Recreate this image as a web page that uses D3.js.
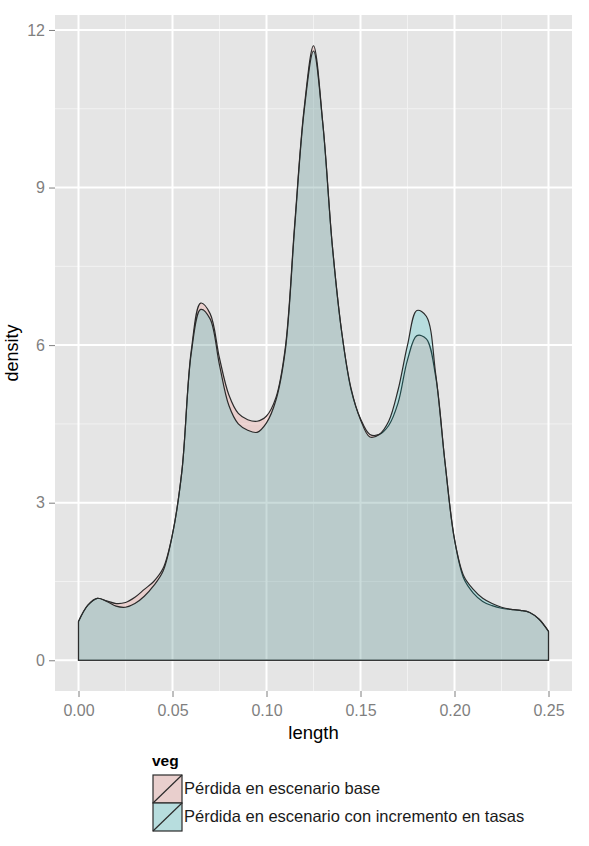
<!DOCTYPE html>
<html>
<head>
<meta charset="utf-8">
<script src="https://cdn.jsdelivr.net/npm/d3@7"></script>
<style>
  body { margin: 0; background: #fff; }
  text { font-family: "Liberation Sans", Arial, sans-serif; }
</style>
</head>
<body>
<div id="chart"></div>
<script>
// =============================================
// data
const lengths = [
  0.000, 0.005, 0.010, 0.015, 0.020, 0.025, 0.030, 0.035, 0.040, 0.045,
  0.050, 0.055, 0.060, 0.065, 0.070, 0.075, 0.080, 0.085, 0.090, 0.095,
  0.100, 0.105, 0.110, 0.115, 0.120, 0.125, 0.130, 0.135, 0.140, 0.145,
  0.150, 0.155, 0.160, 0.165, 0.170, 0.175, 0.180, 0.185, 0.190, 0.195,
  0.200, 0.205, 0.210, 0.215, 0.220, 0.225, 0.230, 0.235, 0.240, 0.245,
  0.250
];

// Pérdida en escenario base
const densBase = [
  0.74, 1.05, 1.18, 1.13, 1.08, 1.10, 1.20, 1.35, 1.50, 1.75,
  2.40, 3.60, 5.90, 6.80, 6.60, 5.75, 5.05, 4.70, 4.58, 4.55,
  4.65, 5.00, 5.95, 8.30, 10.50, 11.70, 10.20, 7.90, 6.25, 5.15,
  4.60, 4.30, 4.30, 4.47, 4.90, 5.72, 6.18, 6.12, 5.40, 3.75,
  2.30, 1.55, 1.28, 1.12, 1.04, 0.99, 0.97, 0.95, 0.91, 0.78,
  0.55
];

// Pérdida en escenario con incremento en tasas
const densIncr = [
  0.74, 1.05, 1.18, 1.12, 1.03, 1.01, 1.08, 1.22, 1.42, 1.70,
  2.40, 3.60, 5.85, 6.68, 6.50, 5.62, 4.85, 4.50, 4.38, 4.34,
  4.52, 4.95, 5.90, 8.25, 10.45, 11.60, 10.20, 7.90, 6.25, 5.17,
  4.58, 4.25, 4.30, 4.55, 5.15, 6.00, 6.66, 6.55, 5.45, 3.75,
  2.30, 1.60, 1.35, 1.18, 1.08, 1.01, 0.97, 0.95, 0.91, 0.78,
  0.55
];

const seriesNames  = ['Pérdida en escenario base', 'Pérdida en escenario con incremento en tasas'];
const seriesColors = ['#F8766D', '#00BFC4'];
const xTicks = [0, 0.05, 0.10, 0.15, 0.20, 0.25];
const yTicks = [0, 3, 6, 9, 12];

// =============================================
// canvas
let canvas_w = 589;
let canvas_h = 846;
let panel = { left: 55, right: 572, top: 15, bottom: 691 };

let svg = d3.select('#chart')
            .append('svg')
            .attr('width', canvas_w)
            .attr('height', canvas_h);

// ggplot style 5% expansion
let x = d3.scaleLinear()
          .domain([-0.0125, 0.2625])
          .range([panel.left, panel.right]);

let y = d3.scaleLinear()
          .domain([-0.585, 12.285])
          .range([panel.bottom, panel.top]);

// panel background
svg.append('rect')
   .attr('x', panel.left)
   .attr('y', panel.top)
   .attr('width', panel.right - panel.left)
   .attr('height', panel.bottom - panel.top)
   .attr('fill', '#E5E5E5');

// minor grid
let xMinor = [0.025, 0.075, 0.125, 0.175, 0.225];
let yMinor = [1.5, 4.5, 7.5, 10.5];

svg.selectAll('.xminor')
   .data(xMinor).enter()
   .append('line')
   .attr('x1', d => x(d)).attr('x2', d => x(d))
   .attr('y1', panel.top).attr('y2', panel.bottom)
   .attr('stroke', '#F2F2F2').attr('stroke-width', 1);

svg.selectAll('.yminor')
   .data(yMinor).enter()
   .append('line')
   .attr('y1', d => y(d)).attr('y2', d => y(d))
   .attr('x1', panel.left).attr('x2', panel.right)
   .attr('stroke', '#F2F2F2').attr('stroke-width', 1);

// major grid
svg.selectAll('.xmajor')
   .data(xTicks).enter()
   .append('line')
   .attr('x1', d => x(d)).attr('x2', d => x(d))
   .attr('y1', panel.top).attr('y2', panel.bottom)
   .attr('stroke', '#FFFFFF').attr('stroke-width', 2);

svg.selectAll('.ymajor')
   .data(yTicks).enter()
   .append('line')
   .attr('y1', d => y(d)).attr('y2', d => y(d))
   .attr('x1', panel.left).attr('x2', panel.right)
   .attr('stroke', '#FFFFFF').attr('stroke-width', 2);

// =============================================
// density areas
let area = d3.area()
             .x(d => x(d[0]))
             .y0(y(0))
             .y1(d => y(d[1]))
             .curve(d3.curveCatmullRom.alpha(0.5));

let series = [densBase, densIncr].map(vals => lengths.map((l, i) => [l, vals[i]]));

svg.selectAll('.dens')
   .data(series).enter()
   .append('path')
   .attr('d', area)
   .attr('fill', (d, i) => seriesColors[i])
   .attr('fill-opacity', 0.2)
   .attr('stroke', '#2B2B2B')
   .attr('stroke-width', 1.2);

// =============================================
// axes
let xAxis = d3.axisBottom(x)
              .tickValues(xTicks)
              .tickFormat(d3.format('.2f'))
              .tickSize(6)
              .tickPadding(8);

let yAxis = d3.axisLeft(y)
              .tickValues(yTicks)
              .tickFormat(d3.format('d'))
              .tickSize(6)
              .tickPadding(4);

let gx = svg.append('g')
            .attr('transform', 'translate(0,' + panel.bottom + ')')
            .call(xAxis);

let gy = svg.append('g')
            .attr('transform', 'translate(' + panel.left + ',0)')
            .call(yAxis);

[gx, gy].forEach(g => {
  g.select('.domain').remove();
  g.selectAll('line').attr('stroke', '#7F7F7F');
  g.selectAll('text')
   .attr('fill', '#7F7F7F')
   .style('font-size', '16px');
});

// axis titles
svg.append('text')
   .attr('x', (x(0) + x(0.25)) / 2)
   .attr('y', 739)
   .attr('text-anchor', 'middle')
   .style('font-size', '18.5px')
   .text('length');

svg.append('text')
   .attr('transform', 'translate(18,' + ((panel.top + panel.bottom) / 2) + ') rotate(-90)')
   .attr('text-anchor', 'middle')
   .style('font-size', '18px')
   .text('density');

// =============================================
// legend
let legend = svg.append('g')
                .attr('transform', 'translate(153,775)');

legend.append('text')
      .attr('x', -1)
      .attr('y', -9)
      .style('font-size', '15.5px')
      .style('font-weight', 'bold')
      .text('veg');

let keyH = 28, keyW = 29;

let keys = legend.selectAll('.key')
                 .data(seriesNames).enter()
                 .append('g')
                 .attr('transform', (d, i) => 'translate(0,' + (i * keyH) + ')');

keys.append('rect')
    .attr('width', keyW)
    .attr('height', keyH)
    .attr('fill', '#E5E5E5');

keys.append('rect')
    .attr('width', keyW)
    .attr('height', keyH)
    .attr('fill', (d, i) => seriesColors[i])
    .attr('fill-opacity', 0.2)
    .attr('stroke', '#2B2B2B')
    .attr('stroke-width', 1.2);

keys.append('line')
    .attr('x1', 0).attr('y1', keyH)
    .attr('x2', keyW).attr('y2', 0)
    .attr('stroke', '#2B2B2B')
    .attr('stroke-width', 1.2);

keys.append('text')
    .attr('x', keyW + 2)
    .attr('y', keyH / 2 + 5)
    .style('font-size', '16.5px')
    .attr('fill', '#1A1A1A')
    .text(d => d);
</script>
</body>
</html>
